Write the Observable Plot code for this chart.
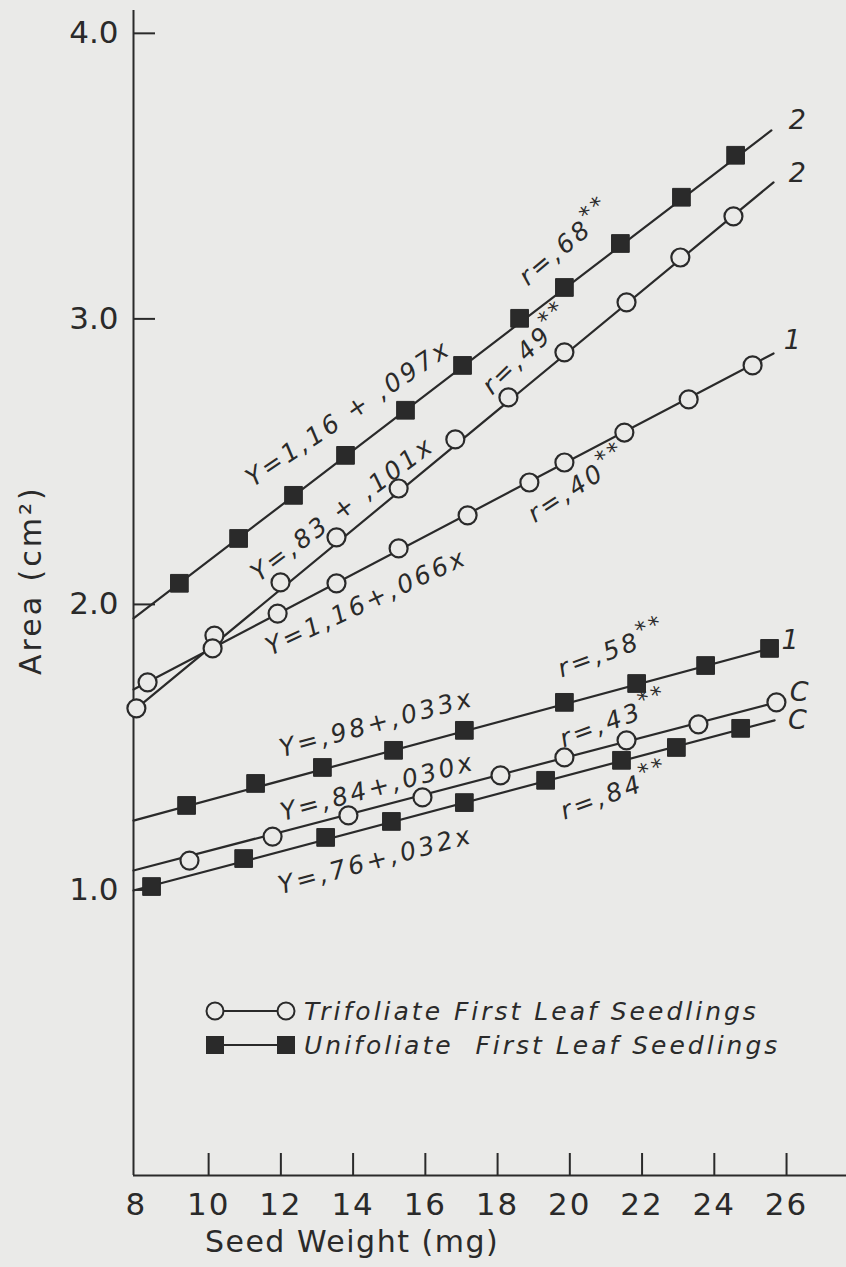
<!DOCTYPE html>
<html><head><meta charset="utf-8">
<script src="https://cdn.jsdelivr.net/npm/d3@7"></script>
<script src="https://cdn.jsdelivr.net/npm/@observablehq/plot@0.6"></script>
<style>
html,body{margin:0;padding:0;background:#eaeae8;}
#wrap{position:relative;width:846px;height:1267px;overflow:hidden;}
#legend{position:absolute;left:0;top:0;pointer-events:none;}
</style></head>
<body><div id="wrap"></div>
<script>
const ink = "#2a2a2a", paper = "#eaeae8";

// axis ticks
const xTickMarks = [10, 12, 14, 16, 18, 20, 22, 24, 26];
const xTickLabels = [8, 10, 12, 14, 16, 18, 20, 22, 24, 26];
const yTicks = [1, 2, 3, 4];
const xDomain = [7.92, 27.66];
const yDomain = [0, 4.08];

// Trifoliate first leaf seedlings (open circles)
const trif2X = [8.00, 10.16, 11.99, 13.54, 15.26, 16.83, 18.30, 19.85, 21.57, 23.06, 24.53];
const trif2Y = [1.636, 1.891, 2.077, 2.235, 2.406, 2.578, 2.725, 2.883, 3.058, 3.215, 3.359];
const trif1X = [8.31, 10.11, 11.91, 13.54, 15.26, 17.17, 18.88, 19.85, 21.51, 23.29, 25.06];
const trif1Y = [1.727, 1.846, 1.968, 2.074, 2.196, 2.312, 2.427, 2.497, 2.602, 2.718, 2.837];
const trifCX = [9.47, 11.77, 13.87, 15.92, 18.08, 19.85, 21.57, 23.56, 25.72];
const trifCY = [1.103, 1.187, 1.261, 1.324, 1.401, 1.464, 1.524, 1.580, 1.657];

// Unifoliate first leaf seedlings (filled squares)
const unif2X = [9.19, 10.83, 12.35, 13.79, 15.45, 17.03, 18.61, 19.85, 21.40, 23.09, 24.59];
const unif2Y = [2.074, 2.231, 2.382, 2.522, 2.680, 2.837, 3.002, 3.110, 3.264, 3.426, 3.573];
const unif1X = [9.39, 11.30, 13.15, 15.12, 17.08, 19.85, 21.85, 23.76, 25.53];
const unif1Y = [1.296, 1.373, 1.429, 1.489, 1.559, 1.657, 1.723, 1.786, 1.846];
const unifCX = [8.42, 10.97, 13.24, 15.06, 17.08, 19.33, 21.43, 22.95, 24.73];
const unifCY = [1.012, 1.110, 1.184, 1.240, 1.306, 1.384, 1.454, 1.499, 1.566];

// fitted regression lines (start / end)
const lineSeries = ["T2", "T1", "TC", "U2", "U1", "UC"];
const lineX0 = [7.92, 7.92, 7.92, 7.92, 7.92, 7.92];
const lineY0 = [1.627, 1.702, 1.068, 1.951, 1.243, 0.998];
const lineX1 = [25.64, 25.64, 25.72, 25.58, 25.55, 25.67];
const lineY1 = [3.478, 2.879, 1.657, 3.660, 1.846, 1.594];

// equation / correlation annotations
const eqText = ["Y=1,16 + ,097x", "r=,68**", "Y=,83 + ,101x", "r=,49**", "Y=1,16+,066x", "r=,40**",
                "r=,58**", "Y=,98+,033x", "r=,43**", "Y=,84+,030x", "r=,84**", "Y=,76+,032x"];
const eqX = [13.87, 19.91, 13.71, 18.83, 14.37, 20.24, 21.18, 14.65, 21.24, 14.68, 21.26, 14.62];
const eqY = [2.669, 3.264, 2.333, 2.890, 2.007, 2.417, 1.839, 1.583, 1.594, 1.359, 1.341, 1.103];
const eqAngle = [-34, -40, -37, -44, -25, -33, -20, -15, -20, -15, -20, -15];

// line end labels
const endText = ["2", "2", "1", "1", "C", "C"];
const endX = [26.3, 26.3, 26.16, 26.1, 26.35, 26.3];
const endY = [3.695, 3.51, 2.925, 1.874, 1.692, 1.594];

const legendLabels = ["Trifoliate First Leaf Seedlings", "Unifoliate  First Leaf Seedlings"];

const pts = (X, Y) => X.map((x, i) => ({x, y: Y[i]}));
const circles = [...pts(trif2X, trif2Y), ...pts(trif1X, trif1Y), ...pts(trifCX, trifCY)];
const squares = [...pts(unif2X, unif2Y), ...pts(unif1X, unif1Y), ...pts(unifCX, unifCY)];
const lines = lineSeries.flatMap((s, i) => [{s, x: lineX0[i], y: lineY0[i]}, {s, x: lineX1[i], y: lineY1[i]}]);
const eqs = eqText.map((t, i) => ({t, x: eqX[i], y: eqY[i], a: eqAngle[i]}));
const ends = endText.map((t, i) => ({t, x: endX[i], y: endY[i]}));

const font = "DejaVu Sans";
const chart = Plot.plot({
  width: 846, height: 1267,
  marginLeft: 133, marginRight: 0, marginTop: 10, marginBottom: 92,
  x: {domain: xDomain},
  y: {domain: yDomain},
  style: {background: paper, color: ink, fontFamily: font},
  marks: [
    Plot.ruleX([xDomain[0]], {stroke: ink, strokeWidth: 2}),
    Plot.ruleY([yDomain[0]], {stroke: ink, strokeWidth: 2}),
    Plot.axisX(xTickMarks, {tickSize: -22, tickFormat: () => "", label: null, stroke: ink, strokeWidth: 2}),
    Plot.axisX(xTickLabels, {tickSize: 0, tickPadding: 17, tickFormat: d => String(d), label: null,
      fontSize: 31, fontFamily: font, fill: ink}),
    Plot.axisY(yTicks, {tickSize: -22, tickFormat: () => "", label: null, stroke: ink, strokeWidth: 2}),
    Plot.axisY(yTicks, {tickSize: 0, tickPadding: 15, tickFormat: d => d.toFixed(1), label: null,
      fontSize: 31, fontFamily: font, fill: ink}),
    Plot.text(["Seed Weight (mg)"], {frameAnchor: "bottom", dx: -138, dy: 76, fontSize: 30, fontFamily: font, fill: ink}),
    Plot.text(["Area (cm²)"], {frameAnchor: "left", rotate: -90, dx: -102, dy: 82, fontSize: 30, fontFamily: font, fill: ink}),
    Plot.line(lines, {x: "x", y: "y", z: "s", stroke: ink, strokeWidth: 2.2}),
    Plot.dot(circles, {x: "x", y: "y", r: 9, fill: paper, stroke: ink, strokeWidth: 2.2}),
    Plot.dot(squares, {x: "x", y: "y", symbol: "square", r: 10, fill: ink, stroke: ink, strokeWidth: 1}),
    Plot.text(eqs, {x: "x", y: "y", text: "t", rotate: "a", fontSize: 25, fontStyle: "italic", fontFamily: font, fill: ink}),
    Plot.text(ends, {x: "x", y: "y", text: "t", fontSize: 27, fontStyle: "italic", fontFamily: font, fill: ink})
  ]
});
document.getElementById("wrap").appendChild(chart);

// styling tweaks: letter spacing, superscript asterisks
const svg = d3.select(chart);
svg.selectAll("text").each(function () {
  const t = this.textContent;
  if (eqText.includes(t)) {
    this.style.letterSpacing = "3px";
    if (t.endsWith("**")) {
      const base = t.slice(0, -2);
      this.textContent = base;
      d3.select(this).append("tspan").attr("dy", "-0.45em").attr("font-size", "0.9em").text("**");
    }
  } else if (t === "Seed Weight (mg)") {
    this.style.letterSpacing = "1.5px";
  } else if (t === "Area (cm²)") {
    this.style.letterSpacing = "3px";
  } else if (/^\d+$/.test(t) && xTickLabels.includes(+t)) {
    this.style.letterSpacing = "2px";
  }
});

// legend overlay
const leg = d3.select("#wrap").append("svg").attr("id", "legend").attr("width", 846).attr("height", 1267);
const rows = [{y: 1011, kind: "circle"}, {y: 1045, kind: "square"}];
rows.forEach((r, i) => {
  leg.append("line").attr("x1", 215).attr("x2", 286).attr("y1", r.y).attr("y2", r.y).attr("stroke", ink).attr("stroke-width", 2);
  [215, 286].forEach(cx => {
    if (r.kind === "circle") leg.append("circle").attr("cx", cx).attr("cy", r.y).attr("r", 8.5).attr("fill", paper).attr("stroke", ink).attr("stroke-width", 2);
    else leg.append("rect").attr("x", cx - 9).attr("y", r.y - 9).attr("width", 18).attr("height", 18).attr("fill", ink);
  });
  leg.append("text").attr("x", 304).attr("y", r.y + 9).attr("font-family", font).attr("font-style", "italic")
    .attr("font-size", 25).attr("fill", ink).style("letter-spacing", "3px").style("white-space", "pre").text(legendLabels[i]);
});
</script>
</body></html>
